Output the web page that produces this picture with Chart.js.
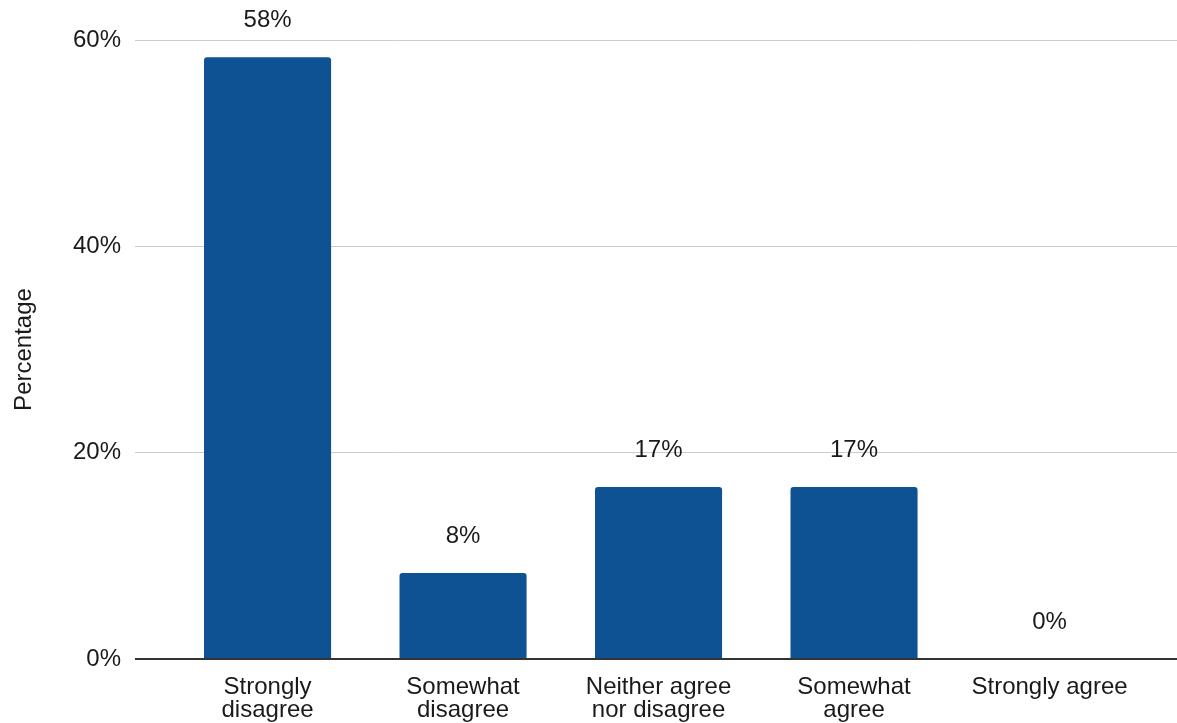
<!DOCTYPE html>
<html>
<head>
<meta charset="utf-8">
<script src="https://cdn.jsdelivr.net/npm/chart.js@4"></script>
<style>
  html, body { margin: 0; padding: 0; background: #fff; }
  #wrap { width: 1177px; height: 723px; position: relative; }
</style>
</head>
<body>
<div id="wrap"><canvas id="grafico"></canvas></div>
<script>
const categorias = [
	['Strongly', 'disagree'],
	['Somewhat', 'disagree'],
	['Neither agree', 'nor disagree'],
	['Somewhat', 'agree'],
	'Strongly agree'
];
const percentuais = [58.33, 8.33, 16.67, 16.67, 0];
const ticksY = [0, 20, 40, 60];

const fonte = '"Liberation Sans", Arial, sans-serif';
const corBarra = '#0f5294';

// rotulos de valor acima das barras
const rotulosPlugin = {
	id: 'rotulos',
	afterDatasetsDraw(chart) {
		const ctx = chart.ctx;
		const meta = chart.getDatasetMeta(0);
		ctx.save();
		ctx.font = '24px ' + fonte;
		ctx.fillStyle = '#1a1a1a';
		ctx.textAlign = 'center';
		ctx.textBaseline = 'middle';
		meta.data.forEach((barra, i) => {
			ctx.fillText(Math.round(percentuais[i]) + '%', barra.x, barra.y - 37);
		});
		ctx.restore();
	}
};

const ctx = document.getElementById('grafico').getContext('2d');
new Chart(ctx, {
	type: 'bar',
	data: {
		datasets: [{
			data: percentuais.map((v, i) => ({ x: i, y: v })),
			backgroundColor: corBarra,
			borderRadius: 3,
			categoryPercentage: 1,
			barPercentage: 0.65
		}]
	},
	options: {
		responsive: true,
		maintainAspectRatio: false,
		animation: false,
		layout: { padding: { top: 40, left: 0, right: 0, bottom: 0 } },
		plugins: {
			legend: { display: false },
			tooltip: { enabled: false }
		},
		scales: {
			x: {
				type: 'linear',
				offset: false,
				min: -0.678,
				max: 4.652,
				grid: { display: false, offset: false },
				border: { display: false },
				afterBuildTicks: (scale) => {
					scale.ticks = categorias.map((c, i) => ({ value: i }));
				},
				afterFit: (scale) => { scale.height = 64; },
				ticks: {
					autoSkip: false,
					maxRotation: 0,
					padding: 9,
					color: '#1a1a1a',
					font: { family: fonte, size: 24, lineHeight: 0.95 },
					callback: (v) => categorias[v]
				}
			},
			y: {
				min: 0,
				max: 60,
				afterBuildTicks: (scale) => {
					scale.ticks = ticksY.map(v => ({ value: v }));
				},
				afterFit: (scale) => { scale.width = 135; },
				border: { display: false },
				grid: {
					drawTicks: false,
					color: (c) => c.tick.value === 0 ? '#333' : '#cccccc',
					lineWidth: (c) => c.tick.value === 0 ? 2 : 1
				},
				ticks: {
					padding: 14,
					color: '#1a1a1a',
					font: { family: fonte, size: 24 },
					callback: (v) => v + '%'
				},
				title: {
					display: true,
					text: 'Percentage',
					color: '#1a1a1a',
					padding: { top: 10, bottom: 0 },
					font: { family: fonte, size: 24 }
				}
			}
		}
	},
	plugins: [rotulosPlugin]
});
</script>
</body>
</html>
